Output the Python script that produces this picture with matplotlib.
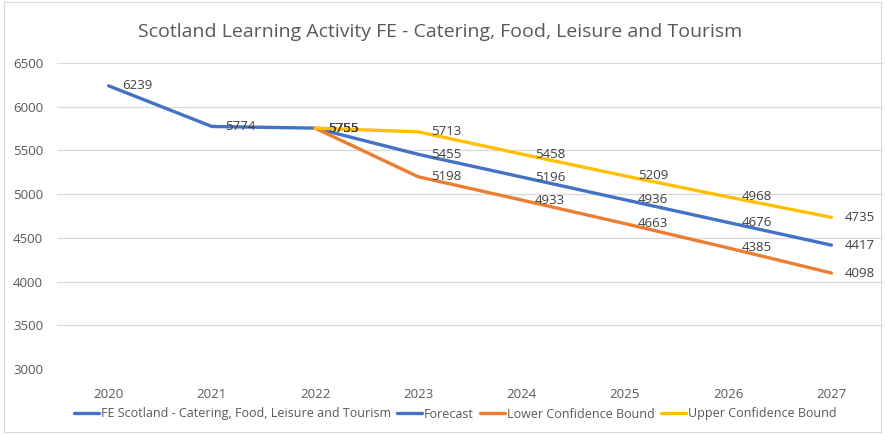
import matplotlib
matplotlib.use("Agg")
import matplotlib.pyplot as plt
from matplotlib import font_manager

names = {f.name for f in font_manager.fontManager.ttflist}
fam = [n for n in ["Liberation Sans Narrow", "Open Sans", "DejaVu Sans"] if n in names]
plt.rcParams['font.family'] = fam

years = ["2020", "2021", "2022", "2023", "2024", "2025", "2026", "2027"]
actual = [6239, 5774, 5755, None, None, None, None, None]
forecast = [None, None, 5755, 5455, 5196, 4936, 4676, 4417]
lower = [None, None, 5755, 5198, 4933, 4663, 4385, 4098]
upper = [None, None, 5755, 5713, 5458, 5209, 4968, 4735]

series = [
    ("FE Scotland - Catering, Food, Leisure and Tourism", actual, "#4472C4"),
    ("Forecast", forecast, "#4472C4"),
    ("Lower Confidence Bound", lower, "#ED7D31"),
    ("Upper Confidence Bound", upper, "#FFC000"),
]

fig = plt.figure(figsize=(8.85, 4.34), dpi=100)
ax = fig.add_axes([57/885, (434-369)/434, (883-57)/885, (369-63)/434])

x = list(range(len(years)))
for name, vals, col in series:
    xs = [i for i, v in zip(x, vals) if v is not None]
    ys = [v for v in vals if v is not None]
    ax.plot(xs, ys, color=col, lw=2.4, label=name, solid_capstyle='round', zorder=3)

for name, vals, col in series:
    for i, v in zip(x, vals):
        if v is not None:
            ax.annotate(str(v), (i, v), xytext=(9.5, 0), textcoords='offset points',
                        ha='left', va='center', fontsize=9.5, color='#404040', zorder=4)

ax.set_xlim(-0.5, len(years) - 0.5)
ax.set_ylim(3000, 6500)
ax.set_yticks(range(3000, 6501, 500))
ax.set_xticks(x)
ax.set_xticklabels(years)
ax.grid(axis='y', color='#D9D9D9', lw=0.9)
ax.set_axisbelow(True)
for s in ax.spines.values():
    s.set_visible(False)
ax.tick_params(length=0, colors='#595959', labelsize=9.5)
ax.tick_params(axis='x', pad=14)
ax.tick_params(axis='y', pad=10)

fig.text(440/885, 1 - 32/434, "Scotland Learning Activity FE - Catering, Food, Leisure and Tourism",
         ha='center', va='center', fontsize=14, color='#595959')

leg = fig.legend(loc='center', bbox_to_anchor=(455/885, 1 - 414/434), ncol=4, frameon=False,
                 fontsize=9, handlelength=2.0, handletextpad=0.15, columnspacing=0.5)
for t in leg.get_texts():
    t.set_color('#595959')

fig.patches.append(plt.Rectangle((0.004, 0.004), 0.992, 0.992, transform=fig.transFigure,
                                 fill=False, edgecolor='#D9D9D9', lw=0.8))

fig.savefig("out.png", dpi=100)
